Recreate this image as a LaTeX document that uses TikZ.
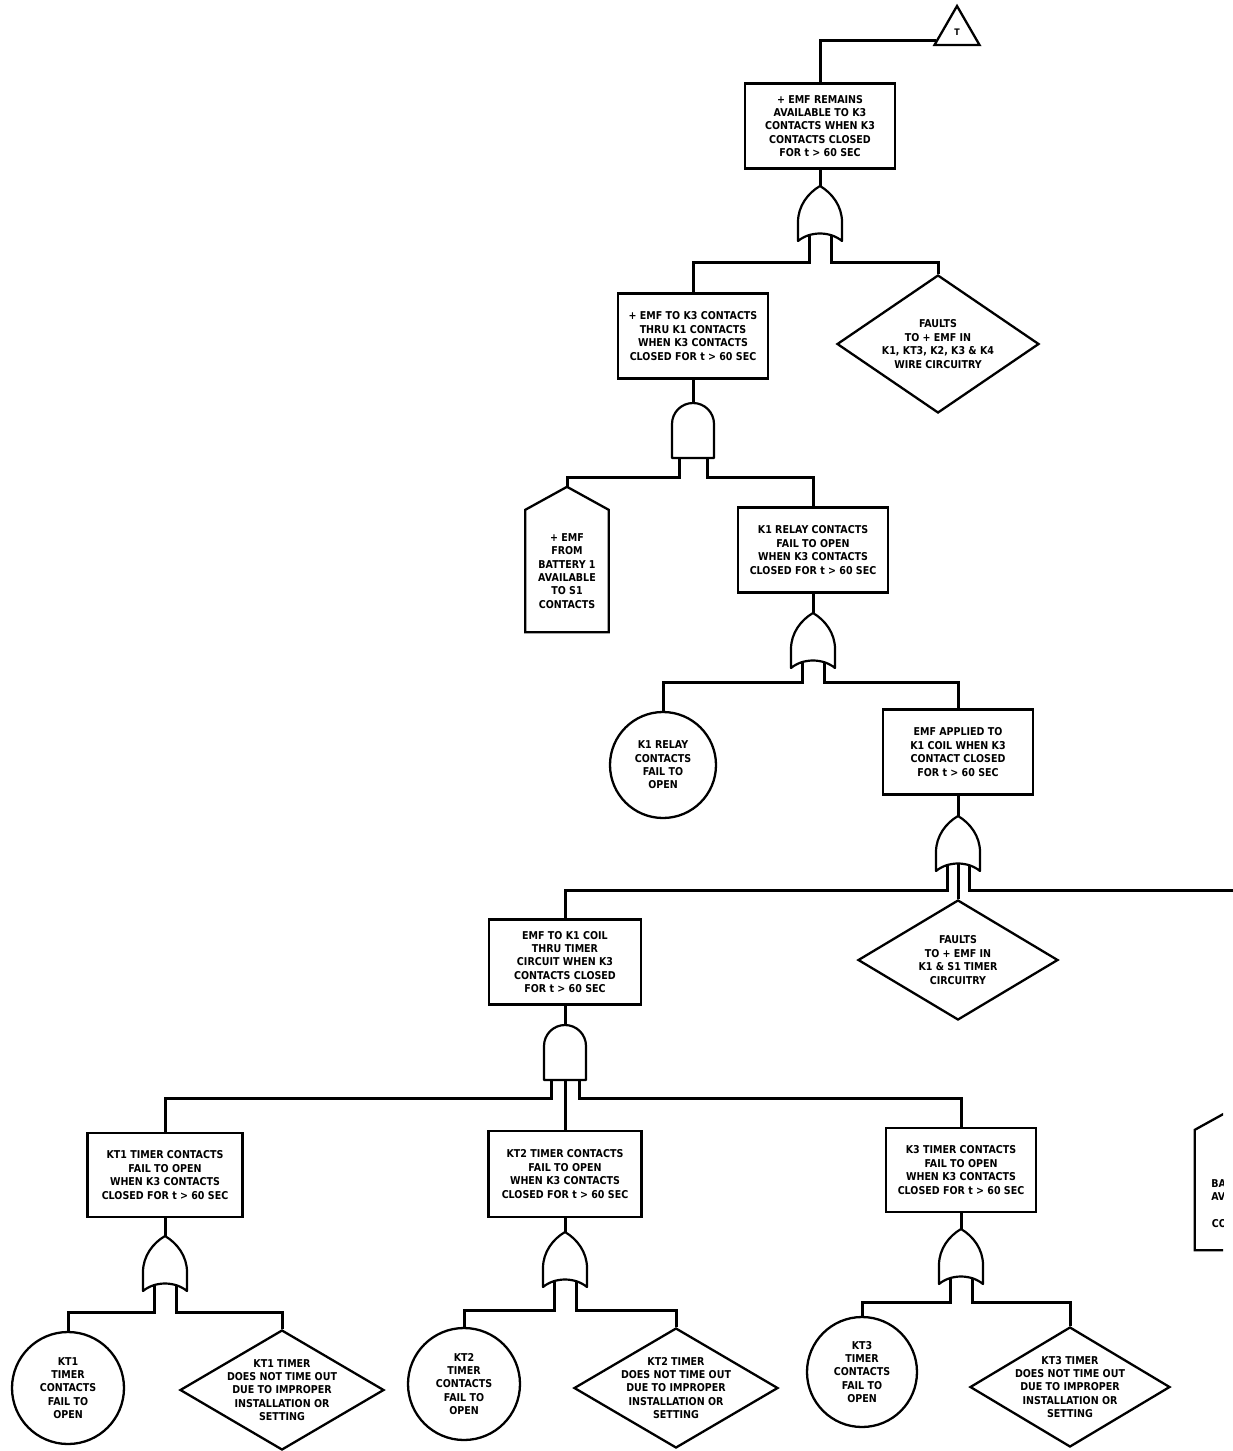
\documentclass[tikz,border=0pt]{standalone}
\usepackage{fontspec}
\newfontfamily\labfont{DejaVu Sans}[FakeStretch=0.88]
\usetikzlibrary{shapes.geometric,calc}
\tikzset{
  conn/.style={line width=3pt},
  outl/.style={draw, line width=2.3pt},
  lab/.style={font=\labfont\bfseries\fontsize{10.8}{13.4}\selectfont, align=center, inner sep=0pt},
  evbox/.style={outl, lab, rectangle, minimum width=#1, minimum height=85pt},
  evbox/.default=150pt,
  basic/.style={outl, lab, circle, minimum size=#1},
  undev/.style={outl, diamond, inner sep=0pt},
  gateline/.style={line width=2.2pt, line join=round},
  pics/orgate/.style={code={
    \draw[gateline] (0,0) .. controls (12,7) and (22,20) .. (22,36) -- (22,55)
      .. controls (10,45) and (-10,45) .. (-22,55) -- (-22,36)
      .. controls (-22,20) and (-12,7) .. (0,0) -- cycle;
    \coordinate (-top) at (0,0);
    \coordinate (-l) at (-11,50);
    \coordinate (-r) at (11,50);
    \coordinate (-m) at (0,48);
  }},
  pics/andgate/.style={code={
    \draw[gateline] (-21,55) -- (-21,21) .. controls (-21,9.4) and (-11.6,0) .. (0,0)
      .. controls (11.6,0) and (21,9.4) .. (21,21) -- (21,55) -- cycle;
    \coordinate (-top) at (0,0);
    \coordinate (-l) at (-14,55);
    \coordinate (-r) at (14,55);
    \coordinate (-m) at (0,55);
  }}
}
\begin{document}
\begin{tikzpicture}[x=1pt,y=-1pt]
\useasboundingbox (0,0) rectangle (1233,1451);

% transfer triangle
\node[outl, regular polygon, regular polygon sides=3, minimum size=52pt, inner sep=0pt,
      font=\labfont\bfseries\fontsize{9}{10}\selectfont] (T) at (957,32) {T};
\coordinate (Tin) at ($(T.corner 2)+(3,-6)$);

% level 1
\node[evbox] (b1) at (820,126) {+ EMF REMAINS\\AVAILABLE TO K3\\CONTACTS WHEN K3\\CONTACTS CLOSED\\FOR t > 60 SEC};
\pic (g1) at (820,186) {orgate};

% level 2
\node[evbox] (b2) at (693,336) {+ EMF TO K3 CONTACTS\\THRU K1 CONTACTS\\WHEN K3 CONTACTS\\CLOSED FOR t > 60 SEC};
\node[undev, minimum width=202pt, minimum height=138pt] (d1) at (938,344) {};
\node[lab] (d1t) at (d1.center) {FAULTS\\TO + EMF IN\\K1, KT3, K2, K3 \& K4\\WIRE CIRCUITRY};
\pic (a1) at (693,403) {andgate};

% level 3
\node[lab, minimum width=83pt, minimum height=122pt] (h1) at (567,571) {+ EMF\\FROM\\BATTERY 1\\AVAILABLE\\TO S1\\CONTACTS};
\coordinate (h1-apex) at ($(h1.north)+(0,-23)$);
\draw[line width=2.3pt] (h1.south west) -- (h1.north west) -- (h1-apex) -- (h1.north east) -- (h1.south east) -- cycle;
\node[evbox] (b3) at (813,550) {K1 RELAY CONTACTS\\FAIL TO OPEN\\WHEN K3 CONTACTS\\CLOSED FOR t > 60 SEC};
\pic (g2) at (813,613) {orgate};

% level 4
\node[basic=106pt] (c1) at (663,765) {K1 RELAY\\CONTACTS\\FAIL TO\\OPEN};
\node[evbox] (b4) at (958,752) {EMF APPLIED TO\\K1 COIL WHEN K3\\CONTACT CLOSED\\FOR t > 60 SEC};
\pic (g3) at (958,816) {orgate};
\coordinate (offR) at (1240,890);

% level 5
\node[evbox=152pt] (b5) at (565,962) {EMF TO K1 COIL\\THRU TIMER\\CIRCUIT WHEN K3\\CONTACTS CLOSED\\FOR t > 60 SEC};
\node[undev, minimum width=200pt, minimum height=120pt] (d2) at (958,960) {};
\node[lab] (d2t) at (d2.center) {FAULTS\\TO + EMF IN\\K1 \& S1 TIMER\\CIRCUITRY};
\pic (a2) at (565,1025) {andgate};

% level 6
\node[evbox=155pt, minimum height=84pt] (kt1) at (165,1175) {KT1 TIMER CONTACTS\\FAIL TO OPEN\\WHEN K3 CONTACTS\\CLOSED FOR t > 60 SEC};
\node[evbox=153pt, minimum height=86pt] (kt2) at (565,1174) {KT2 TIMER CONTACTS\\FAIL TO OPEN\\WHEN K3 CONTACTS\\CLOSED FOR t > 60 SEC};
\node[evbox=150pt, minimum height=84pt] (kt3) at (961,1170) {K3 TIMER CONTACTS\\FAIL TO OPEN\\WHEN K3 CONTACTS\\CLOSED FOR t > 60 SEC};
\pic (ga) at (165,1236) {orgate};
\pic (gb) at (565,1232) {orgate};
\pic (gc) at (961,1229) {orgate};

% level 7
\node[basic=112pt] (ca) at (68,1388) {KT1\\TIMER\\CONTACTS\\FAIL TO\\OPEN};
\node[undev, minimum width=204pt, minimum height=120pt] (da) at (282,1390) {};
\node[lab] (dat) at (da.center) {KT1 TIMER\\DOES NOT TIME OUT\\DUE TO IMPROPER\\INSTALLATION OR\\SETTING};
\node[basic=112pt] (cb) at (464,1384) {KT2\\TIMER\\CONTACTS\\FAIL TO\\OPEN};
\node[undev, minimum width=204pt, minimum height=120pt] (db) at (676,1388) {};
\node[lab] (dbt) at (db.center) {KT2 TIMER\\DOES NOT TIME OUT\\DUE TO IMPROPER\\INSTALLATION OR\\SETTING};
\node[basic=110pt] (cc) at (862,1372) {KT3\\TIMER\\CONTACTS\\FAIL TO\\OPEN};
\node[undev, minimum width=200pt, minimum height=120pt] (dc) at (1070,1387) {};
\node[lab] (dct) at (dc.center) {KT3 TIMER\\DOES NOT TIME OUT\\DUE TO IMPROPER\\INSTALLATION OR\\SETTING};

% partially visible house at right edge
\begin{scope}
  \clip (1180,1090) rectangle (1223,1262);
  \node[lab, minimum width=90pt, minimum height=120pt] (h2) at (1240,1190) {+ EMF\\FROM\\BATTERY 1\\AVAILABLE\\TO S1\\CONTACTS};
  \coordinate (h2-apex) at ($(h2.north)+(0,-25)$);
  \draw[line width=2.3pt] (h2.south west) -- (h2.north west) -- (h2-apex) -- (h2.north east) -- (h2.south east) -- cycle;
\end{scope}

% connectors
\draw[conn] (Tin) -| (b1.north);
\draw[conn] (b1.south) -- (g1-top);
\draw[conn] (g1-l) -- ++(0,26) -| (b2.north);
\draw[conn] (g1-r) -- ++(0,26) -| (d1.north);
\draw[conn] (b2.south) -- (a1-top);
\draw[conn] (a1-l) -- ++(0,19) -| (h1-apex);
\draw[conn] (a1-r) -- ++(0,19) -| (b3.north);
\draw[conn] (b3.south) -- (g2-top);
\draw[conn] (g2-l) -- ++(0,19) -| (c1.north);
\draw[conn] (g2-r) -- ++(0,19) -| (b4.north);
\draw[conn] (b4.south) -- (g3-top);
\draw[conn] (g3-l) -- ++(0,24) -| (b5.north);
\draw[conn] (g3-r) |- (offR);
\draw[conn] (g3-m) -- (d2.north);
\draw[conn] (b5.south) -- (a2-top);
\draw[conn] (a2-l) -- ++(0,18) -| (kt1.north);
\draw[conn] (a2-r) -- ++(0,18) -| (kt3.north);
\draw[conn] (a2-m) -- (kt2.north);
\draw[conn] (kt1.south) -- (ga-top);
\draw[conn] (ga-l) -- ++(0,26) -| (ca.north);
\draw[conn] (ga-r) -- ++(0,26) -| (da.north);
\draw[conn] (kt2.south) -- (gb-top);
\draw[conn] (gb-l) -- ++(0,28) -| (cb.north);
\draw[conn] (gb-r) -- ++(0,28) -| (db.north);
\draw[conn] (kt3.south) -- (gc-top);
\draw[conn] (gc-l) -- ++(0,23) -| (cc.north);
\draw[conn] (gc-r) -- ++(0,23) -| (dc.north);
\end{tikzpicture}
\end{document}
